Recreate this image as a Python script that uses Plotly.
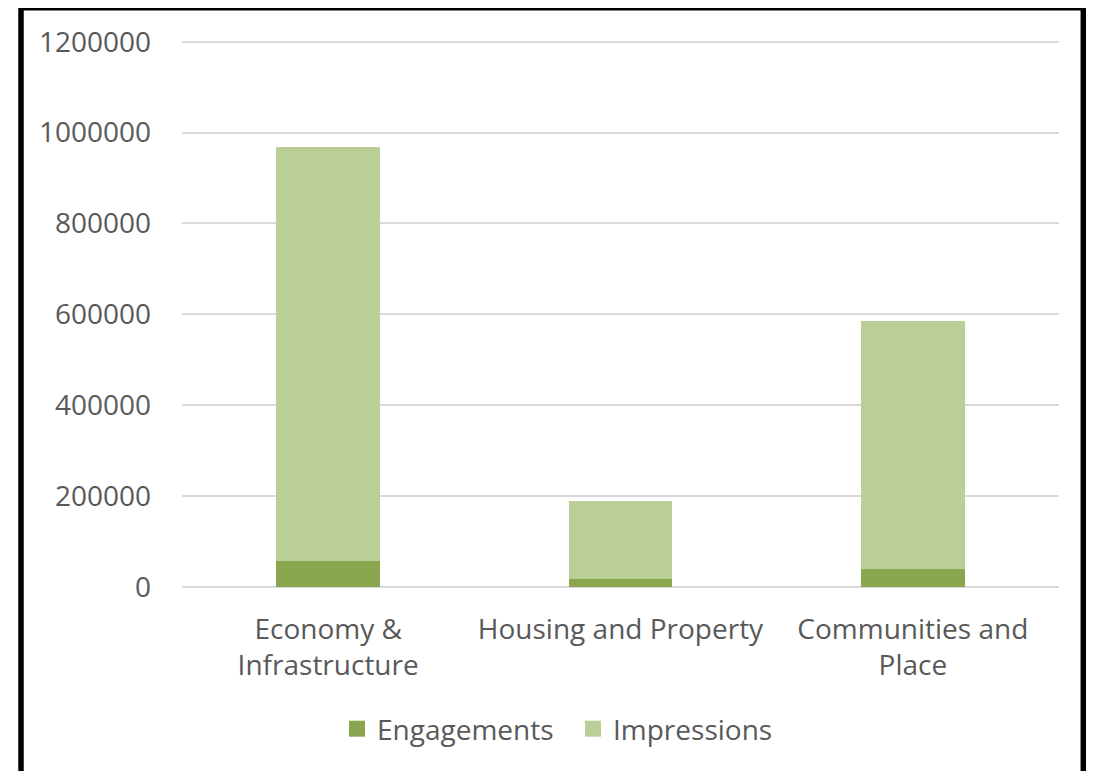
import plotly.graph_objects as go

categories = ["Economy &<br>Infrastructure", "Housing and Property", "Communities and<br>Place"]
engagements = [58000, 17600, 40300]
impressions = [911000, 171700, 545300]
y_ticks = [0, 200000, 400000, 600000, 800000, 1000000, 1200000]

OFF = 8  # default page body margin
W, H = 1094 - 2 * OFF, 771 - OFF
YMAX = 1206000
PX_PER = 545 / 1200000
L, R, B = 182 - OFF, 1059 - OFF, 587 - OFF
T = B - PX_PER * YMAX

C_ENG = "#8AA64E"
C_IMP = "#BACE97"
TXT = "#595959"

fig = go.Figure()
fig.add_trace(go.Bar(name="Engagements", x=categories, y=engagements, showlegend=False,
                     marker=dict(color=C_ENG, line=dict(width=0))))
fig.add_trace(go.Bar(name="Impressions", x=categories, y=impressions, showlegend=False,
                     marker=dict(color=C_IMP, line=dict(width=0))))
# legend entries with larger square swatches
fig.add_trace(go.Scatter(name="Engagements", x=[None], y=[None], mode="markers",
                         marker=dict(symbol="square", size=18, color=C_ENG), legend="legend"))
fig.add_trace(go.Scatter(name="Impressions", x=[None], y=[None], mode="markers",
                         marker=dict(symbol="square", size=18, color=C_IMP), legend="legend2"))

font = "Open Sans"
FS = 28
leg_common = dict(orientation="h", xref="container", yref="container",
                  xanchor="left", y=1 - (729 - OFF) / H, yanchor="middle",
                  font=dict(size=FS, color=TXT), itemwidth=30,
                  bgcolor="rgba(0,0,0,0)")
fig.update_layout(
    width=W, height=H,
    margin=dict(l=L, r=W - R, t=T, b=H - B, pad=0),
    barmode="stack", bargap=0.645,
    plot_bgcolor="white", paper_bgcolor="white",
    font=dict(family=font, size=FS, color=TXT),
    showlegend=True,
    legend=dict(x=(337 - OFF) / W, **leg_common),
    legend2=dict(x=(573 - OFF) / W, **leg_common),
    xaxis=dict(showline=False, showgrid=False, ticks="", ticklabelstandoff=23,
               tickfont=dict(size=FS, color=TXT)),
    yaxis=dict(range=[0, YMAX], tickvals=y_ticks, tickformat="d",
               showgrid=True, gridcolor="#D9D9D9", gridwidth=1.5,
               zeroline=True, zerolinecolor="#D9D9D9", zerolinewidth=1.5,
               showline=False, ticks="", ticklabelstandoff=30,
               tickfont=dict(size=FS, color=TXT)),
)

pw, ph = R - L, B - T
def px(x):
    return (x - OFF - L) / pw
def py(y):
    return (B - (y - OFF)) / ph

fig.add_shape(type="rect", xref="paper", yref="paper",
              x0=px(21), x1=px(1083.3), y0=py(776), y1=py(8),
              line=dict(color="black", width=5.5), fillcolor="rgba(0,0,0,0)",
              layer="above")

fig.write_html("out.html")
